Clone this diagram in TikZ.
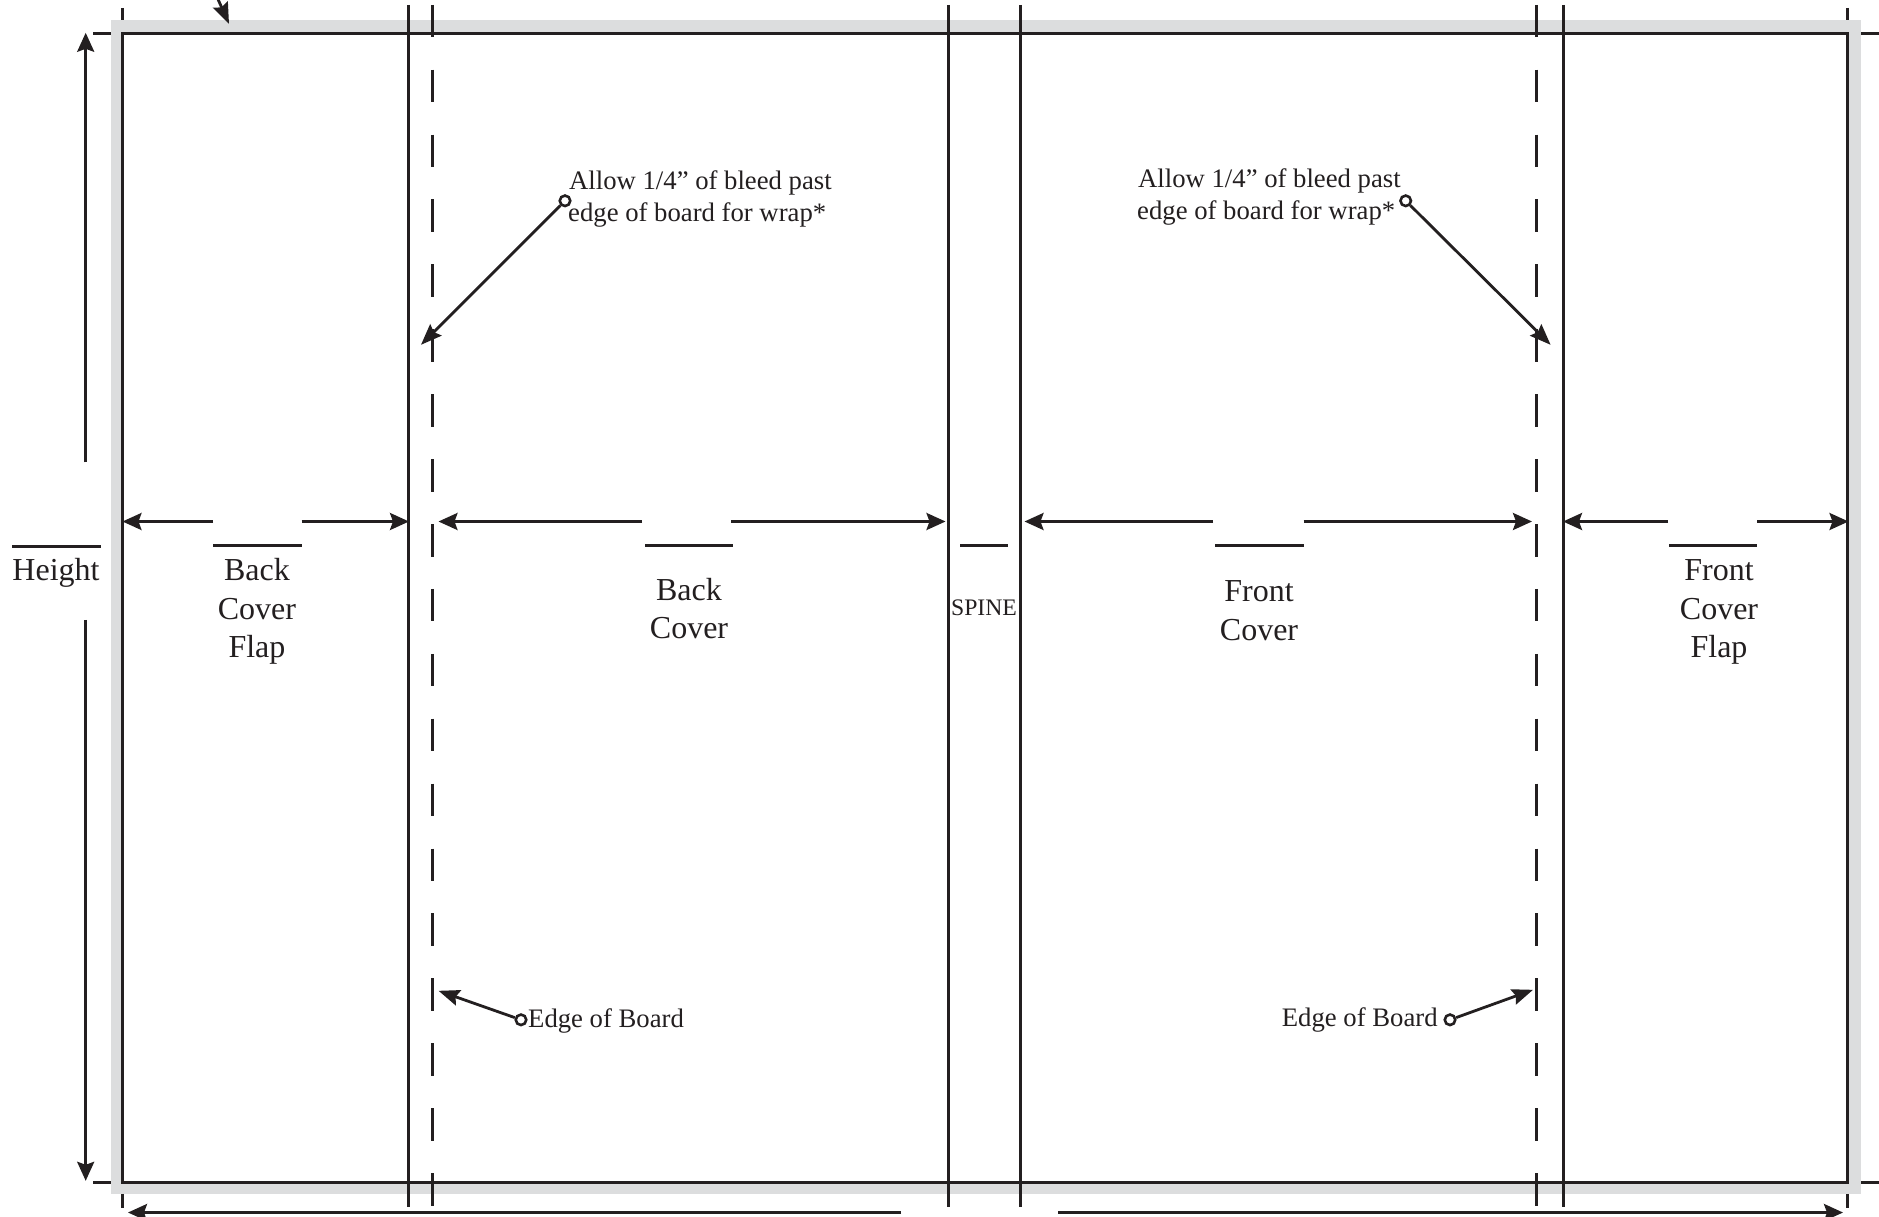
\documentclass[tikz,border=0pt]{standalone}
\usepackage{fontspec}
\setmainfont{Liberation Serif}
\usetikzlibrary{arrows.meta}
\definecolor{ink}{HTML}{231F20}
\definecolor{band}{HTML}{DCDDDE}
\tikzset{
  rule/.style={draw=ink,line width=3pt},
  thin rule/.style={draw=ink,line width=2.8pt},
  dashrule/.style={draw=ink,line width=3pt,dash pattern=on 32.5pt off 32.4pt},
  dim/.style={draw=ink,line width=2.8pt,-{Stealth[length=19pt,width=17pt,inset=3pt]}},
  lead/.style={draw=ink,line width=2.8pt,-{Stealth[length=21pt,width=16pt,inset=3pt]}},
  big/.style={inner sep=0pt,anchor=base,text=ink,font=\fontsize{32}{38}\selectfont},
  small/.style={inner sep=0pt,anchor=base west,text=ink,font=\fontsize{26.7}{32}\selectfont},
  spinetxt/.style={inner sep=0pt,anchor=base,text=ink,font=\fontsize{23.7}{28}\selectfont},
  dot/.style={circle,draw=ink,line width=2.6pt,fill=white,inner sep=0pt,minimum size=10.5pt}
}
\begin{document}
\begin{tikzpicture}[x=1pt,y=-1pt]
\useasboundingbox (0,0) rectangle (1879,1217);
\begin{scope}[yshift=-0.8pt]
% bleed band
\fill[band] (111,19) rectangle (1861,1193);
\fill[white] (122.5,32.5) rectangle (1847.7,1181.5);
% trim rectangle
\draw[rule] (122.5,32.5) rectangle (1847.7,1181.5);
% crop ticks
\draw[thin rule] (122.5,7) -- (122.5,19);
\draw[thin rule] (122.5,1193) -- (122.5,1207);
\draw[thin rule] (1847.7,7) -- (1847.7,19);
\draw[thin rule] (1847.7,1193) -- (1847.7,1207);
\draw[thin rule] (93,32.5) -- (111,32.5);
\draw[thin rule] (93,1181.5) -- (111,1181.5);
\draw[thin rule] (1861,32.5) -- (1879,32.5);
\draw[thin rule] (1861,1181.5) -- (1879,1181.5);
% fold lines
\draw[rule] (408.3,4) -- (408.3,1205.7);
\draw[rule] (948.7,4) -- (948.7,1205.7);
\draw[rule] (1020.3,4) -- (1020.3,1205.7);
\draw[rule] (1563.5,4) -- (1563.5,1205.7);
\draw[dashrule] (432.3,4) -- (432.3,1206);
\draw[dashrule] (1536.3,4) -- (1536.3,1206);
% top-left pointer
\coordinate (tA) at (216,-6); \coordinate (tB) at (229,23);
\draw[lead] (tA) -- (tB);
% height
\coordinate (h1) at (85.7,461.5); \coordinate (h2) at (85.7,32);
\coordinate (h3) at (85.7,619); \coordinate (h4) at (85.7,1180);
\draw[dim] (h1) -- (h2);
\draw[dim] (h3) -- (h4);
\draw[thin rule] (12,546) -- (100.7,546);
\node[big] (height) at (56,580) {Height};
% back cover flap
\coordinate (a1) at (213,520.7); \coordinate (a2) at (122.5,520.7);
\coordinate (a3) at (301.7,520.7); \coordinate (a4) at (409,520.7);
\draw[dim] (a1) -- (a2);
\draw[dim] (a3) -- (a4);
\draw[thin rule] (213,545) -- (301.7,545);
\node[big] (bcf1) at (257,580) {Back};
\node[big] (bcf2) at (257,619) {Cover};
\node[big] (bcf3) at (257,657) {Flap};
% back cover
\coordinate (b1) at (642,520.7); \coordinate (b2) at (438.5,520.7);
\coordinate (b3) at (731,520.7); \coordinate (b4) at (945.5,520.7);
\draw[dim] (b1) -- (b2);
\draw[dim] (b3) -- (b4);
\draw[thin rule] (645,545) -- (733,545);
\node[big] (bc1) at (689,599.5) {Back};
\node[big] (bc2) at (689,637.5) {Cover};
% spine
\draw[thin rule] (960,545) -- (1008,545);
\node[spinetxt] (spine) at (984,615) {SPINE};
% front cover
\coordinate (c1) at (1213,520.7); \coordinate (c2) at (1024.5,520.7);
\coordinate (c3) at (1303.7,520.7); \coordinate (c4) at (1532,520.7);
\draw[dim] (c1) -- (c2);
\draw[dim] (c3) -- (c4);
\draw[thin rule] (1215,545) -- (1303.7,545);
\node[big] (fc1) at (1259,601) {Front};
\node[big] (fc2) at (1259,640) {Cover};
% front cover flap
\coordinate (d1) at (1668,520.7); \coordinate (d2) at (1563,520.7);
\coordinate (d3) at (1757,520.7); \coordinate (d4) at (1848.5,520.7);
\draw[dim] (d1) -- (d2);
\draw[dim] (d3) -- (d4);
\draw[thin rule] (1669,545) -- (1757,545);
\node[big] (fcf1) at (1719,580) {Front};
\node[big] (fcf2) at (1719,619) {Cover};
\node[big] (fcf3) at (1719,657) {Flap};
% bleed notes
\node[small] (l1) at (569,189) {Allow 1/4” of bleed past};
\node[small] (l2) at (568,221) {edge of board for wrap*};
\node[dot] (ld) at (565,200) {};
\coordinate (lt) at (421,344);
\draw[lead] (ld) -- (lt);
\node[small] (r1) at (1138,187) {Allow 1/4” of bleed past};
\node[small] (r2) at (1137,219) {edge of board for wrap*};
\node[dot] (rd) at (1405.7,200) {};
\coordinate (rt) at (1550.6,344);
\draw[lead] (rd) -- (rt);
% edge of board notes
\node[small] (e1) at (528,1027) {Edge of Board};
\node[dot] (e1d) at (521,1019) {};
\coordinate (e1t) at (438.6,990);
\draw[lead] (e1d) -- (e1t);
\node[small] (e2) at (1281.7,1026) {Edge of Board};
\node[dot] (e2d) at (1450,1019) {};
\coordinate (e2t) at (1533,989);
\draw[lead] (e2d) -- (e2t);
% total width
\coordinate (w1) at (901,1211.7); \coordinate (w2) at (128,1211.7);
\coordinate (w3) at (1058,1211.7); \coordinate (w4) at (1843,1211.7);
\draw[dim] (w1) -- (w2);
\draw[dim] (w3) -- (w4);
\end{scope}
\end{tikzpicture}
\end{document}
